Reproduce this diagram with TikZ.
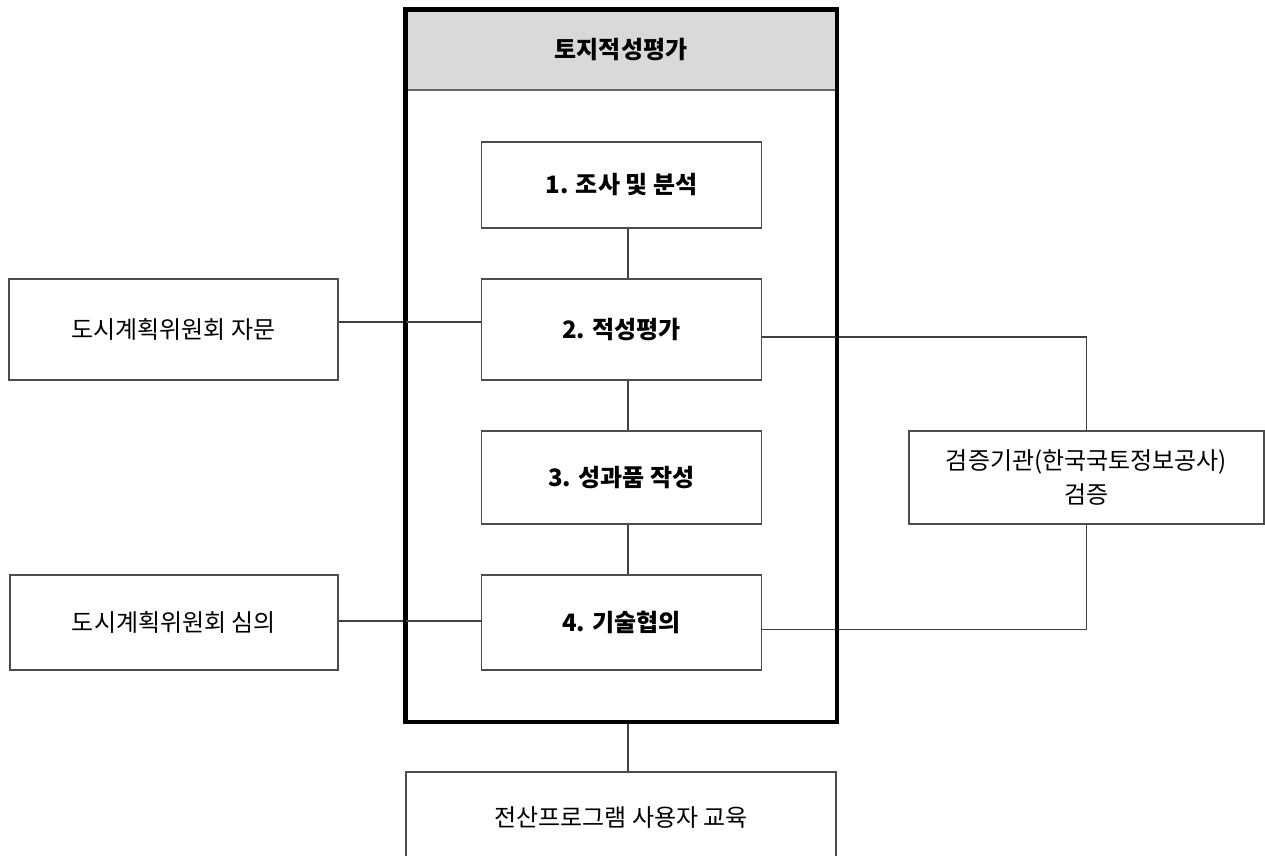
\documentclass[tikz,border=0pt]{standalone}
\usepackage{fontspec}
\setmainfont{Noto Sans CJK KR}
\begin{document}
\begin{tikzpicture}[x=1pt,y=-1pt,
  box/.style={draw=black!70,line width=1.2pt,fill=white,inner sep=0pt,font=\fontsize{24}{29}\selectfont},
  stepbox/.style={box,minimum width=280pt,font=\fontsize{24}{29}\selectfont\bfseries},
  conn/.style={draw=black!75,line width=1.2pt}]
\useasboundingbox (0,0) rectangle (1265,855);
% outer frame
\node[draw=black!60,line width=1.5pt,fill=black!15,minimum width=430pt,minimum height=80pt,inner sep=0pt,
      font=\fontsize{24}{29}\selectfont\bfseries] (head) at (621,50) {토지적성평가};
\node[draw=black,line width=3pt,minimum width=430pt,minimum height=711pt,inner sep=0pt] (outer) at (621,365.5) {};
% steps
\node[stepbox,minimum height=86pt] (b1) at (621.5,185) {1. 조사 및 분석};
\node[stepbox,minimum height=101pt] (b2) at (621.5,329.5) {2. 적성평가};
\node[stepbox,minimum height=93pt] (b3) at (621.5,477.5) {3. 성과품 작성};
\node[stepbox,minimum height=95pt] (b4) at (621.5,622.5) {4. 기술협의};
% side boxes
\node[box,minimum width=329pt,minimum height=101pt] (l1) at (173.5,329.5) {도시계획위원회 자문};
\node[box,minimum width=328pt,minimum height=95pt] (l2) at (174,622.5) {도시계획위원회 심의};
\node[box,minimum width=355pt,minimum height=93pt,align=center,font=\fontsize{24}{34}\selectfont] (r) at (1086.5,477.5) {검증기관(한국국토정보공사)\\검증};
\node[box,minimum width=430pt,minimum height=90pt] (bot) at (621,817) {전산프로그램 사용자 교육};
% connectors
\draw[conn] ([xshift=6.5pt]b1.south) -- ([xshift=6.5pt]b2.north);
\draw[conn] ([xshift=6.5pt]b2.south) -- ([xshift=6.5pt]b3.north);
\draw[conn] ([xshift=6.5pt]b3.south) -- ([xshift=6.5pt]b4.north);
\draw[conn] ([yshift=7.5pt]l1.east) -- ([yshift=7.5pt]b2.west);
\draw[conn] ([yshift=1.5pt]l2.east) -- ([yshift=1.5pt]b4.west);
\draw[conn] ([yshift=-7.5pt]b2.east) -| (r.north);
\draw[conn] ([yshift=-7pt]b4.east) -| (r.south);
\draw[conn] ([xshift=7pt]outer.south) -- ([xshift=7pt]bot.north);
% redraw thick frame over the crossing lines
\draw[black,line width=3pt] (outer.north west) rectangle (outer.south east);
\end{tikzpicture}
\end{document}
